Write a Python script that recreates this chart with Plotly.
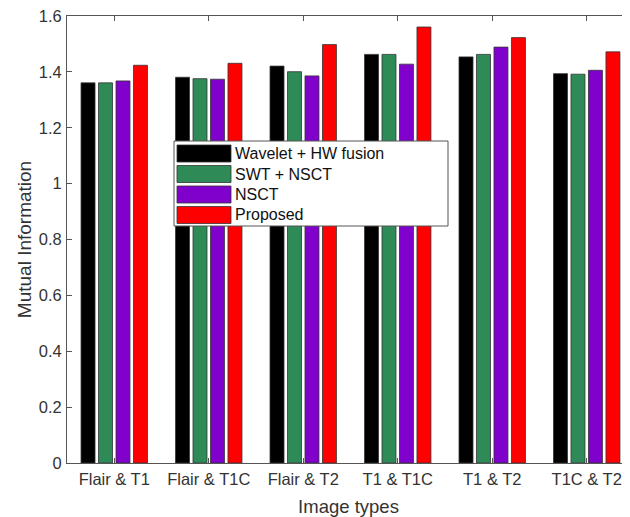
import plotly.graph_objects as go

categories = ["Flair & T1", "Flair & T1C", "Flair & T2", "T1 & T1C", "T1 & T2", "T1C & T2"]
series_names = ["Wavelet + HW fusion", "SWT + NSCT", "NSCT", "Proposed"]
wavelet_hw = [1.361, 1.381, 1.421, 1.463, 1.454, 1.394]
swt_nsct = [1.361, 1.376, 1.401, 1.463, 1.463, 1.392]
nsct = [1.368, 1.374, 1.386, 1.428, 1.489, 1.406]
proposed = [1.424, 1.431, 1.498, 1.561, 1.523, 1.472]
colors = ["#000000", "#2e8b57", "#8000cc", "#ff0000"]
y_ticks = [0, 0.2, 0.4, 0.6, 0.8, 1.0, 1.2, 1.4, 1.6]
y_tick_labels = ["0", "0.2", "0.4", "0.6", "0.8", "1", "1.2", "1.4", "1.6"]

FONT = "Liberation Sans"
fig = go.Figure()
for name, vals, col in zip(series_names, [wavelet_hw, swt_nsct, nsct, proposed], colors):
    fig.add_trace(go.Bar(
        x=categories, y=vals, name=name,
        marker=dict(color=col, line=dict(color="#333333", width=0.8)),
        showlegend=False,
    ))

axis_common = dict(
    showline=True, linecolor="#555555", linewidth=1, mirror="ticks",
    ticks="inside", ticklen=5, tickcolor="#555555",
    tickfont=dict(family=FONT, size=16.5, color="#333333"),
    showgrid=False, zeroline=False, ticklabeloverflow="allow",
)

# page body has an 8px margin, so the figure is offset by (8, 8) in the window
W, H = 622, 509
L, T, B = 59, 8, 54
fig.update_layout(
    width=W, height=H,
    margin=dict(l=L, r=0, t=T, b=B),
    plot_bgcolor="white", paper_bgcolor="white",
    barmode="group", bargap=0.26, bargroupgap=0.2,
    xaxis=dict(range=[-0.5, 5.458], title=dict(text="Image types", font=dict(family=FONT, size=18.5, color="#333333"), standoff=13),
               ticklabelstandoff=1, **axis_common),
    yaxis=dict(range=[0, 1.6004], tickvals=y_ticks, ticktext=y_tick_labels,
               title=dict(text="Mutual Information", font=dict(family=FONT, size=19, color="#333333"), standoff=2),
               ticklabelstandoff=1, **axis_common),
)

# custom legend (wide patches, as in the reference); positions in window pixels
OFF = 8
x0p, wp = L + OFF, W - L
y0p, hp = T + OFF, H - T - B
def px_x(v):
    return (v - x0p) / wp
def px_y(v):
    return (y0p + hp - v) / hp

shapes = [dict(type="rect", xref="paper", yref="paper",
               x0=px_x(174), x1=px_x(448), y0=px_y(226), y1=px_y(141),
               fillcolor="white", line=dict(color="#555555", width=1), layer="above")]
annotations = []
row_centers = [153.5, 174, 194.5, 215]
for name, col, yc in zip(series_names, colors, row_centers):
    shapes.append(dict(type="rect", xref="paper", yref="paper",
                       x0=px_x(177), x1=px_x(231), y0=px_y(yc + 8.5), y1=px_y(yc - 8.5),
                       fillcolor=col, line=dict(color="#333333", width=0.8), layer="above"))
    annotations.append(dict(xref="paper", yref="paper", x=px_x(233), y=px_y(yc),
                            text=name, showarrow=False, xanchor="left", yanchor="middle",
                            font=dict(family=FONT, size=16, color="#111111")))
fig.update_layout(shapes=shapes, annotations=annotations)

fig.write_html("out.html")
